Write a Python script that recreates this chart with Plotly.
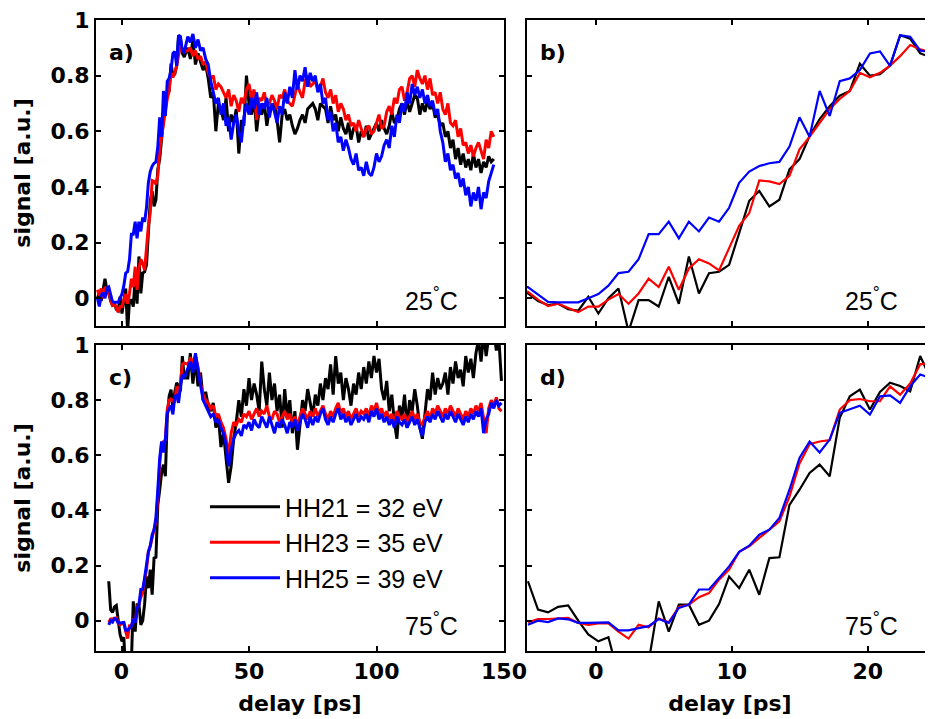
import plotly.graph_objects as go

# ---------------- data ----------------
# delay grids (ps): a few early points (25 C only), a fine grid, and a coarser tail
delay_pre_25 = [-9.44, -8.7, -7.96, -7.22, -6.48, -5.74]
delay_fine = [round(-5 + 0.74 * k, 2) for k in range(41)]
delay_tail_25 = list(range(26, 147))
delay_tail_75 = list(range(26, 150))

# 25 C
hh21_25_pre = [0.0, 0.02, -0.01, 0.03, 0.07, 0.03]
hh23_25_pre = [0.03, 0.01, 0.035, 0.0, 0.04, 0.03]
hh25_25_pre = [0.0, -0.03, 0.01, 0.02, 0.0, 0.035]

hh21_25_fine = [0.017, -0.01, -0.025, -0.02, -0.04, -0.045, 0.005, -0.055, 0.0, 0.035,
                -0.12, -0.007, -0.007, -0.03, 0.077, -0.02, 0.15, 0.017, 0.09, 0.095,
                0.12, 0.234, 0.35, 0.385, 0.33, 0.354, 0.463, 0.5, 0.583, 0.644,
                0.69, 0.728, 0.745, 0.843, 0.8, 0.805, 0.836, 0.945, 0.933, 0.88, 0.867]
hh23_25_fine = [0.023, -0.005, -0.028, -0.02, -0.035, -0.05, -0.03, -0.03, -0.005, 0.015,
                -0.02, 0.017, 0.07, 0.04, 0.113, 0.03, 0.107, 0.14, 0.125, 0.10,
                0.18, 0.26, 0.306, 0.423, 0.42, 0.41, 0.44, 0.535, 0.58, 0.63,
                0.68, 0.716, 0.745, 0.81, 0.794, 0.81, 0.836, 0.87, 0.91, 0.895, 0.885]
hh25_25_fine = [0.04, 0.015, -0.013, -0.015, -0.015, -0.015, 0.0, 0.015, 0.045, 0.09,
                0.095, 0.14, 0.23, 0.23, 0.275, 0.215, 0.275, 0.24, 0.29, 0.275,
                0.325, 0.415, 0.455, 0.475, 0.485, 0.49, 0.545, 0.65, 0.58, 0.745,
                0.655, 0.78, 0.79, 0.82, 0.88, 0.887, 0.835, 0.945, 0.94, 0.89, 0.885]

hh21_25_tail = [0.90, 0.86, 0.93, 0.84, 0.88, 0.85, 0.82, 0.84, 0.79, 0.72,
                0.74, 0.60, 0.70, 0.68, 0.64, 0.72, 0.60, 0.66, 0.63, 0.68,
                0.52, 0.64, 0.62, 0.80, 0.70, 0.66, 0.72, 0.60, 0.68, 0.66,
                0.70, 0.62, 0.68, 0.69, 0.70, 0.64, 0.56, 0.66, 0.68, 0.64,
                0.66, 0.62, 0.59, 0.61, 0.64, 0.66, 0.63, 0.68, 0.69, 0.70,
                0.68, 0.64, 0.70, 0.69, 0.68, 0.63, 0.69, 0.64, 0.66, 0.60,
                0.65, 0.61, 0.59, 0.63, 0.57, 0.61, 0.62, 0.56, 0.60, 0.58,
                0.62, 0.57, 0.59, 0.61, 0.63, 0.60, 0.64, 0.61, 0.59, 0.62,
                0.67, 0.63, 0.64, 0.68, 0.70, 0.66, 0.71, 0.67, 0.70, 0.73,
                0.72, 0.66, 0.70, 0.67, 0.71, 0.68, 0.70, 0.65, 0.66, 0.62,
                0.63, 0.58, 0.60, 0.54, 0.57, 0.50, 0.54, 0.48, 0.52, 0.47,
                0.50, 0.46, 0.52, 0.47, 0.50, 0.45, 0.49, 0.47, 0.51, 0.49, 0.50]
hh23_25_tail = [0.89, 0.90, 0.87, 0.89, 0.86, 0.87, 0.84, 0.85, 0.81, 0.79,
                0.80, 0.75, 0.77, 0.76, 0.74, 0.72, 0.75, 0.69, 0.73, 0.71,
                0.67, 0.72, 0.70, 0.75, 0.77, 0.72, 0.75, 0.64, 0.72, 0.71,
                0.74, 0.69, 0.70, 0.73, 0.71, 0.68, 0.73, 0.72, 0.75, 0.71,
                0.70, 0.69, 0.73, 0.77, 0.74, 0.72, 0.78, 0.80, 0.76, 0.77,
                0.78, 0.75, 0.76, 0.79, 0.74, 0.72, 0.75, 0.70, 0.73, 0.67,
                0.70, 0.68, 0.64, 0.66, 0.62, 0.63, 0.60, 0.64, 0.61, 0.58,
                0.61, 0.62, 0.59, 0.60, 0.63, 0.66, 0.61, 0.62, 0.67, 0.69,
                0.66, 0.72, 0.70, 0.75, 0.76, 0.71, 0.74, 0.79, 0.80, 0.76,
                0.82, 0.79, 0.77, 0.80, 0.75, 0.79, 0.73, 0.74, 0.70, 0.74,
                0.68, 0.66, 0.70, 0.63, 0.62, 0.64, 0.58, 0.61, 0.55, 0.56,
                0.52, 0.55, 0.51, 0.54, 0.56, 0.53, 0.50, 0.57, 0.54, 0.60, 0.58]
hh25_25_tail = [0.94, 0.92, 0.95, 0.90, 0.93, 0.89, 0.90, 0.86, 0.84, 0.78,
                0.74, 0.70, 0.72, 0.66, 0.70, 0.62, 0.65, 0.57, 0.63, 0.66,
                0.60, 0.56, 0.65, 0.70, 0.66, 0.72, 0.68, 0.74, 0.66, 0.70,
                0.68, 0.72, 0.65, 0.70, 0.67, 0.63, 0.69, 0.66, 0.74, 0.70,
                0.76, 0.72, 0.82, 0.75, 0.80, 0.78, 0.83, 0.76, 0.81, 0.78,
                0.80, 0.74, 0.77, 0.70, 0.72, 0.64, 0.67, 0.60, 0.63, 0.56,
                0.58, 0.53, 0.57, 0.54, 0.50, 0.48, 0.52, 0.46, 0.47, 0.44,
                0.49, 0.45, 0.44, 0.47, 0.52, 0.49, 0.51, 0.55, 0.57, 0.54,
                0.62, 0.58, 0.66, 0.63, 0.70, 0.67, 0.74, 0.70, 0.77, 0.73,
                0.76, 0.72, 0.75, 0.70, 0.73, 0.69, 0.71, 0.66, 0.68, 0.60,
                0.56, 0.49, 0.52, 0.46, 0.48, 0.43, 0.45, 0.40, 0.43, 0.37,
                0.40, 0.33, 0.38, 0.35, 0.40, 0.32, 0.38, 0.36, 0.42, 0.45, 0.48]

# 75 C
hh21_75_fine = [0.143, 0.04, 0.03, 0.05, 0.055, 0.0, -0.05, -0.075, -0.06, -0.2,
                -0.25, -0.2, -0.15, 0.07, -0.04, 0.058, 0.058, -0.015, 0.0, 0.06,
                0.16, 0.118, 0.185, 0.094, 0.227, 0.23, 0.42, 0.475, 0.536, 0.566,
                0.524, 0.736, 0.814, 0.838, 0.766, 0.83, 0.863, 0.851, 0.832, 0.96, 0.88]
hh23_75_fine = [-0.006, 0.006, 0.006, 0.008, 0.01, -0.008, -0.015, -0.01, -0.01, -0.04,
                -0.065, -0.015, -0.024, 0.008, -0.006, 0.05, 0.058, 0.085, 0.1, 0.149,
                0.185, 0.25, 0.27, 0.3, 0.33, 0.36, 0.45, 0.57, 0.64, 0.65,
                0.655, 0.766, 0.8, 0.804, 0.796, 0.796, 0.85, 0.82, 0.86, 0.93, 0.935]
hh25_75_fine = [-0.015, 0.0, -0.005, 0.008, 0.005, -0.008, -0.008, -0.006, -0.006, -0.035,
                -0.035, -0.027, -0.02, 0.006, -0.008, 0.046, 0.058, 0.113, 0.113, 0.155,
                0.197, 0.25, 0.272, 0.312, 0.33, 0.373, 0.475, 0.59, 0.65, 0.61,
                0.657, 0.754, 0.768, 0.78, 0.748, 0.814, 0.817, 0.79, 0.85, 0.893, 0.88]

hh21_75_tail = [0.88, 0.97, 0.86, 0.95, 0.85, 0.90, 0.80, 0.83, 0.78, 0.76,
                0.79, 0.70, 0.74, 0.63, 0.68, 0.60, 0.50, 0.56, 0.66, 0.72,
                0.80, 0.74, 0.84, 0.78, 0.88, 0.80, 0.86, 0.82, 0.76, 0.94,
                0.84, 0.78, 0.90, 0.80, 0.86, 0.76, 0.82, 0.70, 0.84, 0.74,
                0.80, 0.68, 0.76, 0.62, 0.72, 0.80, 0.76, 0.84, 0.79, 0.74,
                0.82, 0.78, 0.86, 0.80, 0.88, 0.84, 0.93, 0.82, 0.96, 0.86,
                0.90, 0.80, 0.88, 0.84, 0.78, 0.86, 0.82, 0.90, 0.84, 0.92,
                0.86, 0.94, 0.88, 0.96, 0.90, 0.95, 0.84, 0.80, 0.87, 0.76,
                0.82, 0.72, 0.66, 0.78, 0.74, 0.82, 0.70, 0.80, 0.76, 0.84,
                0.78, 0.70, 0.66, 0.76, 0.84, 0.80, 0.90, 0.82, 0.88, 0.84,
                0.86, 0.90, 0.82, 0.92, 0.86, 0.94, 0.88, 0.91, 0.85, 0.96,
                0.90, 0.95, 0.88, 0.97, 1.02, 0.94, 1.04, 0.96, 1.03, 1.01,
                1.05, 0.98, 1.02, 0.87]
hh23_75_tail = [0.93, 0.95, 0.94, 0.96, 0.92, 0.86, 0.82, 0.80, 0.79, 0.77,
                0.78, 0.74, 0.75, 0.72, 0.70, 0.66, 0.60, 0.68, 0.72, 0.71,
                0.73, 0.72, 0.75, 0.74, 0.76, 0.73, 0.75, 0.77, 0.74, 0.76,
                0.75, 0.78, 0.74, 0.73, 0.76, 0.75, 0.72, 0.74, 0.76, 0.73,
                0.75, 0.72, 0.74, 0.71, 0.74, 0.77, 0.75, 0.73, 0.76, 0.74,
                0.77, 0.74, 0.76, 0.78, 0.75, 0.73, 0.76, 0.74, 0.77, 0.79,
                0.75, 0.77, 0.74, 0.76, 0.73, 0.75, 0.77, 0.74, 0.76, 0.75,
                0.77, 0.74, 0.78, 0.76, 0.79, 0.75, 0.77, 0.74, 0.76, 0.73,
                0.75, 0.72, 0.76, 0.74, 0.73, 0.75, 0.72, 0.74, 0.76, 0.73,
                0.75, 0.72, 0.71, 0.74, 0.76, 0.73, 0.77, 0.75, 0.78, 0.76,
                0.74, 0.77, 0.75, 0.78, 0.76, 0.74, 0.77, 0.75, 0.73, 0.76,
                0.74, 0.77, 0.75, 0.78, 0.76, 0.79, 0.74, 0.68, 0.77, 0.80,
                0.78, 0.81, 0.77, 0.76]
hh25_75_tail = [0.92, 0.94, 0.90, 0.97, 0.91, 0.85, 0.80, 0.78, 0.76, 0.74,
                0.75, 0.72, 0.73, 0.70, 0.68, 0.64, 0.56, 0.62, 0.66, 0.68,
                0.69, 0.67, 0.71, 0.70, 0.72, 0.69, 0.73, 0.71, 0.70, 0.74,
                0.72, 0.70, 0.74, 0.71, 0.68, 0.72, 0.70, 0.73, 0.71, 0.68,
                0.72, 0.70, 0.73, 0.69, 0.72, 0.75, 0.73, 0.70, 0.74, 0.71,
                0.74, 0.72, 0.75, 0.77, 0.73, 0.71, 0.74, 0.72, 0.75, 0.77,
                0.73, 0.75, 0.72, 0.74, 0.71, 0.73, 0.75, 0.72, 0.74, 0.73,
                0.75, 0.72, 0.76, 0.74, 0.77, 0.73, 0.75, 0.72, 0.74, 0.71,
                0.73, 0.70, 0.74, 0.72, 0.71, 0.73, 0.70, 0.72, 0.74, 0.71,
                0.73, 0.70, 0.67, 0.72, 0.74, 0.72, 0.75, 0.73, 0.76, 0.74,
                0.72, 0.75, 0.73, 0.76, 0.74, 0.72, 0.75, 0.73, 0.71, 0.74,
                0.72, 0.75, 0.73, 0.76, 0.74, 0.77, 0.68, 0.73, 0.75, 0.79,
                0.77, 0.80, 0.78, 0.79]

series_names = ["HH21 = 32 eV", "HH23 = 35 eV", "HH25 = 39 eV"]
series_colors = ["#000000", "#ff0000", "#0000ff"]
y_ticks = [0, 0.2, 0.4, 0.6, 0.8, 1]
y_tick_text = ["0", "0.2", "0.4", "0.6", "0.8", "1"]
x_ticks_wide = [0, 50, 100, 150]
x_ticks_zoom = [0, 10, 20]

# ---------------- figure ----------------
delay_25 = delay_pre_25 + delay_fine + delay_tail_25
delay_75 = delay_fine + delay_tail_75
data_25 = [hh21_25_pre + hh21_25_fine + hh21_25_tail,
           hh23_25_pre + hh23_25_fine + hh23_25_tail,
           hh25_25_pre + hh25_25_fine + hh25_25_tail]
data_75 = [hh21_75_fine + hh21_75_tail, hh23_75_fine + hh23_75_tail, hh25_75_fine + hh25_75_tail]

fig = go.Figure()
panels = [("x", "y", delay_25, data_25, 3.0, False),
          ("x2", "y2", delay_25, data_25, 2.2, False),
          ("x3", "y3", delay_75, data_75, 3.0, True),
          ("x4", "y4", delay_75, data_75, 2.2, False)]
for xa, ya, dl, dat, lw, show in panels:
    for name, col, vals in zip(series_names, series_colors, dat):
        fig.add_trace(go.Scatter(x=dl, y=vals, mode="lines", name=name,
                                 line=dict(color=col, width=lw),
                                 xaxis=xa, yaxis=ya, showlegend=show, cliponaxis=True))

bold_font = dict(family="DejaVu Sans", size=22, color="black", weight="bold")
title_font = dict(family="DejaVu Sans", size=22, color="black", weight="bold")
axis_base = dict(showline=True, linecolor="black", linewidth=2, ticks="inside",
                 ticklen=5, tickwidth=1.5, tickcolor="black", showgrid=False,
                 zeroline=False, tickfont=bold_font, automargin=False,
                 ticklabeloverflow="allow")

# page offset of the plot div (browser default body margin) is compensated here
W, H = 933, 719
ml, mr, mt, mb = 88, 8, 12, 76
pw, ph = W - ml - mr, H - mt - mb
bottom_px = H - mb  # plot-area bottom in figure pixels
dom_a_x = [0, 408 / pw]
dom_b_x = [431 / pw, 1.0]
dom_top = [325 / ph, 1.0]
dom_bot = [0, 306 / ph]

fig.update_layout(
    width=W, height=H, autosize=False,
    margin=dict(l=ml, r=mr, t=mt, b=mb, pad=0, autoexpand=False),
    paper_bgcolor="white", plot_bgcolor="white",
    xaxis=dict(axis_base, domain=dom_a_x, range=[-10, 150], tickvals=x_ticks_wide,
               showticklabels=False, mirror="ticks", anchor="y"),
    yaxis=dict(axis_base, domain=dom_top, range=[-0.1, 1.0], tickvals=y_ticks,
               ticktext=y_tick_text, mirror="ticks", anchor="x",
               title=dict(text="signal [a.u.]", font=title_font, standoff=14)),
    xaxis2=dict(axis_base, domain=dom_b_x, range=[-5.07, 24.8], tickvals=x_ticks_zoom,
                showticklabels=False, mirror="ticks", anchor="y2"),
    yaxis2=dict(axis_base, domain=dom_top, range=[-0.1, 1.0], tickvals=y_ticks,
                showticklabels=False, mirror=False, anchor="x2"),
    xaxis3=dict(axis_base, domain=dom_a_x, range=[-10, 150], tickvals=x_ticks_wide,
                mirror="ticks", anchor="y3",
                title=dict(text="delay [ps]", font=title_font, standoff=12)),
    yaxis3=dict(axis_base, domain=dom_bot, range=[-0.11, 1.0], tickvals=y_ticks,
                ticktext=y_tick_text, mirror="ticks", anchor="x3",
                title=dict(text="signal [a.u.]", font=title_font, standoff=14)),
    xaxis4=dict(axis_base, domain=dom_b_x, range=[-5.07, 24.8], tickvals=x_ticks_zoom,
                mirror="ticks", anchor="y4",
                title=dict(text="delay [ps]", font=title_font, standoff=12)),
    yaxis4=dict(axis_base, domain=dom_bot, range=[-0.11, 1.0], tickvals=y_ticks,
                showticklabels=False, mirror=False, anchor="x4"),
    legend=dict(x=(197 - ml) / pw, y=(bottom_px - 476) / ph, xanchor="left", yanchor="top",
                bgcolor="rgba(0,0,0,0)", borderwidth=0, itemwidth=70,
                font=dict(family="Liberation Sans", size=25, color="black"),
                traceorder="normal"),
)

label_font = dict(family="DejaVu Sans", size=22, color="black", weight="bold")
temp_font = dict(family="Liberation Sans", size=25, color="black")
for xa, ya, lab, temp in [("x", "y", "a)", "25"), ("x2", "y2", "b)", "25"),
                          ("x3", "y3", "c)", "75"), ("x4", "y4", "d)", "75")]:
    fig.add_annotation(xref=xa + " domain", yref=ya + " domain", x=0.028, y=0.893,
                       text=lab, showarrow=False, xanchor="left", yanchor="middle",
                       font=label_font)
    xr = 0.892 if xa in ("x", "x3") else 0.919
    fig.add_annotation(xref=xa + " domain", yref=ya + " domain", x=xr, y=0.088,
                       text=temp + "<sup>°</sup>C", showarrow=False, xanchor="right",
                       yanchor="middle", font=temp_font)

fig.write_html("out.html")
